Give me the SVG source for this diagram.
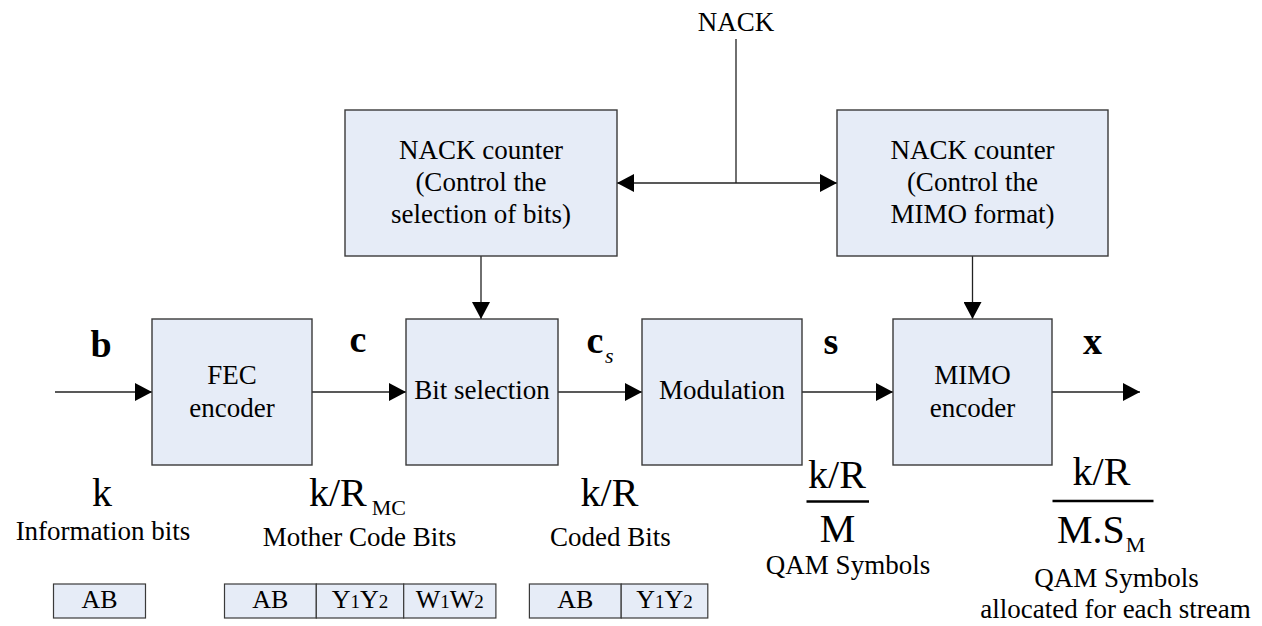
<svg xmlns="http://www.w3.org/2000/svg" width="1262" height="626" viewBox="0 0 1262 626">
<defs>
<style>
.box{fill:#E6ECF7;stroke:#3a3a3a;stroke-width:1.4}
.sm{fill:#E6ECF7;stroke:#3a3a3a;stroke-width:1.2}
.ln{stroke:#222;stroke-width:1.3;fill:none}
.t{font-size:27px;fill:#000;text-anchor:middle}
.m{font-size:40px;fill:#000}
.b{font-size:38px;font-weight:bold;fill:#000;text-anchor:middle}
.st{font-size:26px;fill:#000;text-anchor:middle}
</style>
<marker id="ah" viewBox="0 0 17 18" refX="17" refY="9" markerWidth="17" markerHeight="18" markerUnits="userSpaceOnUse" orient="auto">
<path d="M0,0 L17,9 L0,18 Z" fill="#000"/>
</marker>
<marker id="ahs" viewBox="0 0 17 18" refX="0" refY="9" markerWidth="17" markerHeight="18" markerUnits="userSpaceOnUse" orient="auto">
<path d="M17,0 L0,9 L17,18 Z" fill="#000"/>
</marker>
</defs>
<rect width="1262" height="626" fill="#fff"/>

<g id="connectors">
<line class="ln" x1="736" y1="39" x2="736" y2="183"/>
<line class="ln" x1="617" y1="183" x2="837" y2="183" marker-start="url(#ahs)" marker-end="url(#ah)"/>
<line class="ln" x1="481" y1="256" x2="481" y2="319" marker-end="url(#ah)"/>
<line class="ln" x1="972.5" y1="256" x2="972.5" y2="319" marker-end="url(#ah)"/>
<line class="ln" x1="55" y1="392" x2="152" y2="392" marker-end="url(#ah)"/>
<line class="ln" x1="312" y1="392" x2="406" y2="392" marker-end="url(#ah)"/>
<line class="ln" x1="558" y1="392" x2="642" y2="392" marker-end="url(#ah)"/>
<line class="ln" x1="802" y1="392" x2="893" y2="392" marker-end="url(#ah)"/>
<line class="ln" x1="1052" y1="392" x2="1140" y2="392" marker-end="url(#ah)"/>
</g>

<g font-family="Liberation Serif, Times New Roman, serif">
<g id="nack-label"><text class="t" x="736" y="31">NACK</text></g>

<g id="nack-counter-bits">
<rect class="box" x="345" y="110" width="272" height="146"/>
<text class="t" x="481" y="159">NACK counter</text>
<text class="t" x="481" y="191">(Control the</text>
<text class="t" x="481" y="223">selection of bits)</text>
</g>

<g id="nack-counter-mimo">
<rect class="box" x="837" y="110" width="271" height="146"/>
<text class="t" x="972.5" y="159">NACK counter</text>
<text class="t" x="972.5" y="191">(Control the</text>
<text class="t" x="972.5" y="223">MIMO format)</text>
</g>

<g id="fec-encoder">
<rect class="box" x="152" y="319" width="160" height="146"/>
<text class="t" x="232" y="384">FEC</text>
<text class="t" x="232" y="417">encoder</text>
</g>

<g id="bit-selection">
<rect class="box" x="406" y="319" width="152" height="146"/>
<text class="t" x="482" y="399">Bit selection</text>
</g>

<g id="modulation">
<rect class="box" x="642" y="319" width="160" height="146"/>
<text class="t" x="722" y="399">Modulation</text>
</g>

<g id="mimo-encoder">
<rect class="box" x="893" y="319" width="159" height="146"/>
<text class="t" x="972.5" y="384">MIMO</text>
<text class="t" x="972.5" y="417">encoder</text>
</g>

<g id="signal-labels">
<text class="b" x="101" y="357">b</text>
<text class="b" x="358" y="352">c</text>
<text class="b" x="595" y="353">c</text>
<text x="605" y="363" font-size="22" font-style="italic">s</text>
<text class="b" x="831" y="354">s</text>
<text class="b" x="1092.5" y="354">x</text>
</g>

<g id="size-info">
<text class="m" x="102" y="506" text-anchor="middle">k</text>
<text class="t" x="103" y="540">Information bits</text>
</g>

<g id="size-mother">
<text class="m" x="309" y="506">k/R<tspan dx="5" dy="9" font-size="22">MC</tspan></text>
<text class="t" x="359.5" y="546">Mother Code Bits</text>
</g>

<g id="size-coded">
<text class="m" x="609.5" y="506" text-anchor="middle">k/R</text>
<text class="t" x="610.5" y="546">Coded Bits</text>
</g>

<g id="size-qam">
<text class="m" x="837" y="488" text-anchor="middle">k/R</text>
<line x1="806.5" y1="501.5" x2="869" y2="501.5" stroke="#000" stroke-width="2.5"/>
<text class="m" x="837.5" y="542" text-anchor="middle">M</text>
<text class="t" x="848" y="574">QAM Symbols</text>
</g>

<g id="size-stream">
<text class="m" x="1101.5" y="485" text-anchor="middle">k/R</text>
<line x1="1052.5" y1="501" x2="1153.5" y2="501" stroke="#000" stroke-width="2.5"/>
<text class="m" x="1057" y="543">M.S<tspan dx="1" dy="8.5" font-size="22">M</tspan></text>
<text class="t" x="1116.5" y="587">QAM Symbols</text>
<text class="t" x="1115.5" y="618">allocated for each stream</text>
</g>

<g id="bits-info">
<rect class="sm" x="53.5" y="584" width="92" height="34"/>
<text class="st" x="99.6" y="608">AB</text>
</g>

<g id="bits-mother">
<rect class="sm" x="224.5" y="584" width="91.8" height="34"/>
<rect class="sm" x="316.3" y="584" width="87.4" height="34"/>
<rect class="sm" x="403.7" y="584" width="92.2" height="34"/>
<text class="st" x="270.4" y="608">AB</text>
<text class="st" x="360" y="608">Y<tspan font-size="19">1</tspan>Y<tspan font-size="19">2</tspan></text>
<text class="st" x="449.8" y="608">W<tspan font-size="19">1</tspan>W<tspan font-size="19">2</tspan></text>
</g>

<g id="bits-coded">
<rect class="sm" x="529.4" y="584" width="91.8" height="34"/>
<rect class="sm" x="621.2" y="584" width="86.6" height="34"/>
<text class="st" x="575.3" y="608">AB</text>
<text class="st" x="664.5" y="608">Y<tspan font-size="19">1</tspan>Y<tspan font-size="19">2</tspan></text>
</g>
</g>
</svg>
